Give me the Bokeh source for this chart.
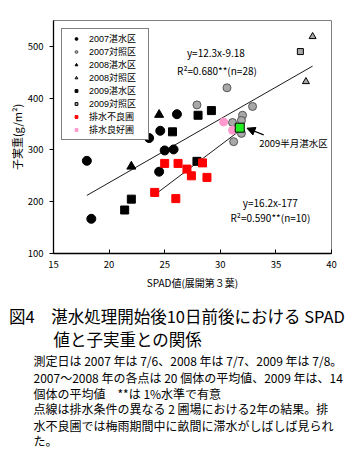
from bokeh.plotting import figure
from bokeh.models import Range1d, Legend, LegendItem, Arrow, NormalHead, FixedTicker
from bokeh.layouts import column
from bokeh.embed import file_html
from bokeh.resources import INLINE
from bokeh.core.properties import value

FONT = "Noto Sans CJK JP"
LEGEND_FONT = "Liberation Sans, Noto Sans CJK JP"
NAN = float("nan")

# ---------------- data (SPAD value, grain weight g/m2) ----------------
tan07_x = [18.0, 18.4, 23.6, 24.6, 25.0, 25.8, 24.5, 26.1]
tan07_y = [279, 167, 323, 337, 299, 301, 258, 369]
ctl07_x = [30.6, 27.9, 32.9, 32.0, 31.9, 31.1, 31.9, 31.2]
ctl07_y = [420, 387, 384, 367, 357, 353, 332, 316]
tan08_x = [24.5, 22.0]
tan08_y = [368, 268]
ctl08_x = [38.3, 37.7]
ctl08_y = [519, 432]
tan09_x = [25.7, 28.0, 29.2, 27.9, 22.0, 21.4]
tan09_y = [335, 367, 376, 278, 205, 184]
ctl09_x = [37.2]
ctl09_y = [490]
poor_x = [25.0, 26.2, 27.0, 27.4, 28.4, 28.8, 24.1, 26.0]
poor_y = [274, 274, 263, 250, 275, 247, 218, 206]
good_x = [30.3, 31.1]
good_y = [354, 338]
half_x = [31.75]
half_y = [343]

# regression lines (stated equations) and their x extents
fit_all = (12.3, -9.18, 18.0, 38.3)
fit_drain = (16.2, -177.0, 24.1, 31.8)

x_ticks = [15, 20, 25, 30, 35, 40]
y_ticks = [100, 200, 300, 400, 500]

legend_labels = ["2007湛水区", "2007対照区", "2008湛水区", "2008対照区",
                 "2009湛水区", "2009対照区", "排水不良圃", "排水良好圃"]

caption_title = ["図4　湛水処理開始後10日前後における SPAD", "値と子実重との関係"]
caption_notes = [
    "測定日は 2007 年は 7/6、2008 年は 7/7、2009 年は 7/8。",
    "2007～2008 年の各点は 20 個体の平均値、2009 年は、14",
    "個体の平均値　**は 1%水準で有意",
    "点線は排水条件の異なる 2 圃場における2年の結果。排",
    "水不良圃では梅雨期間中に畝間に滞水がしばしば見られ",
    "た。",
]

# ---------------- chart ----------------
p = figure(frame_width=278, frame_height=233, x_range=Range1d(15, 40), y_range=Range1d(100, 550),
           toolbar_location=None, output_backend="svg",
           min_border_left=53, min_border_top=20, min_border_right=20, min_border_bottom=45)
p.frame_align = False
p.grid.visible = False
p.outline_line_color = "#808080"
p.background_fill_color = "white"

for ax in (p.xaxis[0], p.yaxis[0]):
    ax.axis_line_color = "black"
    ax.axis_line_width = 1.3
    ax.major_tick_line_color = "black"
    ax.minor_tick_line_color = None
    ax.major_label_text_font = FONT
    ax.major_label_text_font_size = "9.5px"
    ax.major_label_text_color = "black"
    ax.axis_label_text_font = FONT
    ax.axis_label_text_font_style = "normal"
    ax.axis_label_text_color = "black"

p.xaxis.ticker = FixedTicker(ticks=x_ticks)
p.yaxis.ticker = FixedTicker(ticks=y_ticks)
p.xaxis.major_tick_in = 4
p.xaxis.major_tick_out = 0
p.yaxis.major_tick_in = 0
p.yaxis.major_tick_out = 4
p.xaxis.major_label_standoff = 7
p.yaxis.major_label_standoff = 6
p.xaxis.axis_label = "SPAD値(展開第３葉)"
p.xaxis.axis_label_text_font_size = "10px"
p.xaxis.axis_label_standoff = 4
p.yaxis.axis_label = "子実重(g/m²)"
p.yaxis.axis_label_text_font_size = "11px"
p.yaxis.axis_label_standoff = 0

# regression lines
for a, b, x0, x1 in (fit_all, fit_drain):
    p.line([x0, x1], [a * x0 + b, a * x1 + b], line_color="black", line_width=0.9)

gray_fill = "#A8A8A8"
gray_line = "#555555"

p.scatter(tan07_x, tan07_y, marker="circle", size=9, fill_color="black", line_color="black")
p.scatter(ctl07_x, ctl07_y, marker="circle", size=8, fill_color=gray_fill, line_color=gray_line)
p.scatter(tan08_x, tan08_y, marker="triangle", size=9, fill_color="black", line_color="black")
p.scatter(ctl08_x, ctl08_y, marker="triangle", size=7, fill_color=gray_fill, line_color="black")
p.scatter(tan09_x, tan09_y, marker="square", size=8, fill_color="black", line_color="black")
p.scatter(ctl09_x, ctl09_y, marker="square", size=6, fill_color=gray_fill, line_color="black")
p.scatter(poor_x, poor_y, marker="square", size=8, fill_color="#FF0000", line_color="#FF0000")
p.scatter(good_x, good_y, marker="circle", size=8, fill_color="#FF99CC", line_color="#FF99CC")
p.scatter(half_x, half_y, marker="square", size=9, fill_color="#22EE22", line_color="black")

# legend-only glyphs (small markers as in the original legend); NaN keeps them off the plot
legend_styles = [
    dict(marker="circle", size=5, fill_color="black", line_color="black"),
    dict(marker="circle", size=5, fill_color=gray_fill, line_color=gray_line),
    dict(marker="triangle", size=6, fill_color="black", line_color="black"),
    dict(marker="triangle", size=6, fill_color=gray_fill, line_color="black"),
    dict(marker="square", size=7, fill_color="black", line_color="black"),
    dict(marker="square", size=5, fill_color=gray_fill, line_color="black"),
    dict(marker="square", size=6, fill_color="#FF0000", line_color="#FF0000"),
    dict(marker="square", size=6, fill_color="#FF99CC", line_color="#FF99CC"),
]
legend_items = []
for lab, st in zip(legend_labels, legend_styles):
    r = p.scatter(x=[NAN], y=[NAN], **st)
    legend_items.append(LegendItem(label=lab, renderers=[r]))

# equation texts
p.text(x=[29.6], y=[488], text=["y=12.3x-9.18"], text_font=value(FONT), text_font_size="10px",
       text_align="center", text_baseline="middle", text_color="black")
p.text(x=[29.7], y=[453], text=["R²=0.680**(n=28)"], text_font=value(FONT), text_font_size="10px",
       text_align="center", text_baseline="middle", text_color="black")
p.text(x=[34.5], y=[198], text=["y=16.2x-177"], text_font=value(FONT), text_font_size="10px",
       text_align="center", text_baseline="middle", text_color="black")
p.text(x=[34.5], y=[169], text=["R²=0.590**(n=10)"], text_font=value(FONT), text_font_size="10px",
       text_align="center", text_baseline="middle", text_color="black")
p.text(x=[33.5], y=[314], text=["2009半月湛水区"], text_font=value(FONT), text_font_size="9.5px",
       text_align="left", text_baseline="middle", text_color="black")
p.add_layout(Arrow(end=NormalHead(size=8, fill_color="black", line_color="black"),
                   x_start=33.9, y_start=329, x_end=32.4, y_end=342,
                   line_color="black", line_width=1.2))

legend = Legend(items=legend_items, location="top_left")
legend.label_text_font = LEGEND_FONT
legend.label_text_font_size = "9px"
legend.label_text_color = "black"
legend.label_height = 10
legend.glyph_height = 7
legend.glyph_width = 22
legend.label_standoff = 2
legend.label_width = 56
legend.spacing = 0
legend.padding = 3
legend.margin = 8
legend.border_line_color = "black"
legend.border_line_width = 1
legend.background_fill_alpha = 1
p.add_layout(legend)

# ---------------- caption ----------------
cap = figure(width=351, height=156, x_range=Range1d(0, 351), y_range=Range1d(156, 0),
             x_axis_type=None, y_axis_type=None, toolbar_location=None, output_backend="svg",
             min_border=0)
cap.frame_align = False
cap.grid.visible = False
cap.outline_line_color = None
cap.text(x=[8.5, 53], y=[17, 40], text=caption_title, text_font=value(FONT), text_font_size="16.5px",
         text_align="left", text_baseline="middle", text_color="black")
cap.text(x=[33] * len(caption_notes), y=[62, 78.5, 94.5, 110, 127, 142], text=caption_notes,
         text_font=value(FONT), text_font_size="12px",
         text_align="left", text_baseline="middle", text_color="black")

layout = column(p, cap)
open("out.html", "w").write(file_html(layout, INLINE))
